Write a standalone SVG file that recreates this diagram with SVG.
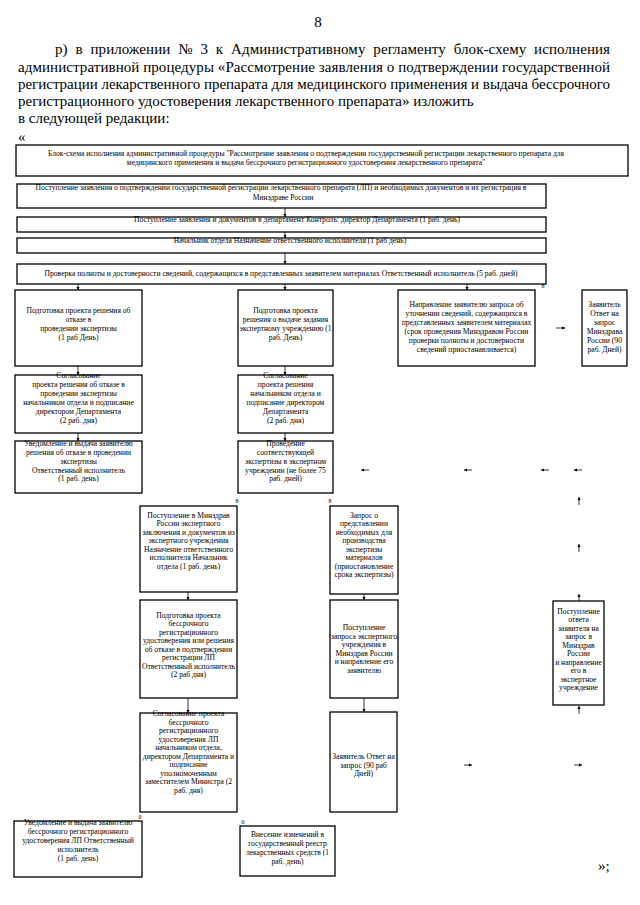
<svg xmlns="http://www.w3.org/2000/svg" width="640" height="905" viewBox="0 0 640 905">
<defs>
<marker id="ah" viewBox="0 0 6 6" refX="6" refY="3" markerWidth="4" markerHeight="4" orient="auto"><path d="M0,0 L6,3 L0,6 z" fill="#000"/></marker>
</defs>
<style>
.p{font-family:"Liberation Serif","Times New Roman",serif;font-size:15px;fill:#000}
.t{font-family:"Liberation Serif","Times New Roman",serif;font-size:7.6px;fill:#000;text-anchor:middle}
.b{fill:#fff;stroke:#000;stroke-width:1.3}
.c{stroke:#000;stroke-width:0.8;fill:none;marker-end:url(#ah)}
.m{font-family:"Liberation Serif","Times New Roman",serif;font-size:6px;fill:#000;text-anchor:middle}
</style>
<rect width="640" height="905" fill="#fff"/>
<g id="header">
<text class="p" x="318" y="27" font-size="11" text-anchor="middle">8</text>
<text class="p" x="55" y="54" textLength="555" lengthAdjust="spacing" word-spacing="4">р) в приложении № 3 к Административному регламенту блок-схему исполнения</text>
<text class="p" x="18" y="72" textLength="592" lengthAdjust="spacing">административной процедуры «Рассмотрение заявления о подтверждении государственной</text>
<text class="p" x="18" y="89" textLength="592" lengthAdjust="spacing">регистрации лекарственного препарата для медицинского применения и выдача бессрочного</text>
<text class="p" x="18" y="106">регистрационного удостоверения лекарственного препарата» изложить</text>
<text class="p" x="18" y="123">в следующей редакции:</text>
<text class="p" x="18" y="142">«</text>
<text class="p" x="598" y="871">»;</text>
</g>
<g id="title">
<rect class="b" x="16" y="145" width="612" height="31"/>
<text class="t" font-size="8"><tspan x="306" y="156">Блок-схема исполнения административной процедуры "Рассмотрение заявления о подтверждении государственной регистрации лекарственного препарата для</tspan><tspan x="306" y="165">медицинского применения и выдача бессрочного регистрационного удостоверения лекарственного препарата"</tspan></text>
</g>
<g id="nA">
<rect class="b" x="17" y="184" width="529" height="24"/>
<text class="t" font-size="7.9"><tspan x="281" y="190">Поступление заявления о подтверждении государственной регистрации лекарственного препарата (ЛП) и необходимых документов и их регистрация в</tspan><tspan x="283" y="200">Минздраве России</tspan></text>
</g>
<g id="nB">
<rect class="b" x="17" y="217" width="529" height="15"/>
<text class="t" x="297" y="222" font-size="7.9">Поступление заявления и документов в департамент Контроль: директор Департамента (1 раб. день)</text>
</g>
<g id="nC">
<rect class="b" x="17" y="238" width="529" height="15"/>
<text class="t" x="290" y="243" font-size="7.9">Начальник отдела Назначение ответственного исполнителя (1 раб  день)</text>
</g>
<g id="nD">
<rect class="b" x="17" y="264" width="529" height="20"/>
<text class="t" x="281" y="276" font-size="8.2">Проверка полноты и достоверности сведений, содержащихся в представленных заявителем материалах Ответственный исполнитель (5  раб. дней)</text>
</g>
<g id="nE1">
<rect class="b" x="15" y="290" width="127" height="76"/>
<text class="t"><tspan x="78.5" y="313">Подготовка проекта решения об</tspan><tspan x="78.5" y="322">отказе в</tspan><tspan x="78.5" y="331">проведении экспертизы</tspan><tspan x="78.5" y="340">(1 раб  День)</tspan></text>
</g>
<g id="nE2">
<rect class="b" x="238" y="290" width="95" height="76"/>
<text class="t"><tspan x="285.5" y="313">Подготовка проекта</tspan><tspan x="285.5" y="322">решения о выдаче задания</tspan><tspan x="285.5" y="331">экспертному учреждению (1</tspan><tspan x="285.5" y="340">раб. День)</tspan></text>
</g>
<g id="nE3">
<rect class="b" x="398" y="290" width="137" height="76"/>
<text class="t"><tspan x="466.5" y="307">Направление заявителю запроса об</tspan><tspan x="466.5" y="316">уточнении сведений, содержащихся в</tspan><tspan x="466.5" y="325">представленных заявителем материалах</tspan><tspan x="466.5" y="334">(срок проведения Минздравом России</tspan><tspan x="466.5" y="343">проверки полноты и достоверности</tspan><tspan x="466.5" y="352">сведений приостанавливается)</tspan></text>
</g>
<g id="nE4">
<rect class="b" x="582" y="290" width="45" height="76"/>
<text class="t"><tspan x="604.5" y="307">Заявитель</tspan><tspan x="604.5" y="316">Ответ на</tspan><tspan x="604.5" y="325">запрос</tspan><tspan x="604.5" y="334">Минздрава</tspan><tspan x="604.5" y="343">России   (90</tspan><tspan x="604.5" y="352">раб. Дней)</tspan></text>
<text class="m" x="543" y="288">8</text>
</g>
<g id="nF1">
<rect class="b" x="15" y="375" width="127" height="58"/>
<text class="t"><tspan x="78.5" y="378">Согласование</tspan><tspan x="78.5" y="387">проекта решения об отказе в</tspan><tspan x="78.5" y="396">проведении экспертизы</tspan><tspan x="78.5" y="405">начальником отдела и подписание</tspan><tspan x="78.5" y="414">директором Департамента</tspan><tspan x="78.5" y="423">(2 раб. дня)</tspan></text>
</g>
<g id="nF2">
<rect class="b" x="238" y="375" width="95" height="58"/>
<text class="t"><tspan x="285.5" y="378">Согласование</tspan><tspan x="285.5" y="387">проекта решения</tspan><tspan x="285.5" y="396">начальником отдела и</tspan><tspan x="285.5" y="405">подписание директором</tspan><tspan x="285.5" y="414">Департамента</tspan><tspan x="285.5" y="423">(2 раб. дня)</tspan></text>
</g>
<g id="nG1">
<rect class="b" x="15" y="441" width="127" height="52"/>
<text class="t"><tspan x="78.5" y="446">Уведомление и  выдача заявителю</tspan><tspan x="78.5" y="455">решения об отказе в проведении</tspan><tspan x="78.5" y="464">экспертизы</tspan><tspan x="78.5" y="472.5">Ответственный исполнитель</tspan><tspan x="78.5" y="481">(1 раб. день)</tspan></text>
</g>
<g id="nG2">
<rect class="b" x="238" y="441" width="95" height="52"/>
<text class="t"><tspan x="285.5" y="446">Проведение</tspan><tspan x="285.5" y="455">соответствующей</tspan><tspan x="285.5" y="464">экспертизы в экспертном</tspan><tspan x="285.5" y="472.5">учреждении (не более 75</tspan><tspan x="285.5" y="481">раб. дней)</tspan></text>
</g>
<g id="nH1">
<rect class="b" x="140" y="506" width="97" height="86"/>
<text class="t"><tspan x="188.5" y="517.5">Поступление в Минздрав</tspan><tspan x="188.5" y="526">России экспертного</tspan><tspan x="188.5" y="534.5">заключения и документов из</tspan><tspan x="188.5" y="543">экспертного учреждения</tspan><tspan x="188.5" y="551.5">Назначение ответственного</tspan><tspan x="188.5" y="560">исполнителя Начальник</tspan><tspan x="188.5" y="568.5">отдела (1 раб. день)</tspan></text>
<text class="m" x="237" y="503">8</text>
</g>
<g id="nH2">
<rect class="b" x="330" y="506" width="68" height="88"/>
<text class="t"><tspan x="364" y="517.5">Запрос о</tspan><tspan x="364" y="526">представлении</tspan><tspan x="364" y="534.5">необходимых для</tspan><tspan x="364" y="543">производства</tspan><tspan x="364" y="551.5">экспертизы</tspan><tspan x="364" y="560">материалов</tspan><tspan x="364" y="568.5">(приостановление</tspan><tspan x="364" y="577">срока экспертизы)</tspan></text>
<text class="m" x="330" y="503">8</text>
</g>
<g id="nI1">
<rect class="b" x="140" y="600" width="97" height="98"/>
<text class="t"><tspan x="188.5" y="617.5">Подготовка проекта</tspan><tspan x="188.5" y="626">бессрочного</tspan><tspan x="188.5" y="634.5">регистрационного</tspan><tspan x="188.5" y="643">удостоверения или решения</tspan><tspan x="188.5" y="651.5">об отказе в подтверждении</tspan><tspan x="188.5" y="660">регистрации ЛП</tspan><tspan x="188.5" y="668.5">Ответственный исполнитель</tspan><tspan x="188.5" y="677">(2 раб  дня)</tspan></text>
</g>
<g id="nI2">
<rect class="b" x="330" y="600" width="68" height="98"/>
<text class="t"><tspan x="364" y="630">Поступление</tspan><tspan x="364" y="638.5">запроса экспертного</tspan><tspan x="364" y="647">учреждения в</tspan><tspan x="364" y="655.5">Минздрав России</tspan><tspan x="364" y="664">и направление его</tspan><tspan x="364" y="672.5">заявителю</tspan></text>
</g>
<g id="nI3">
<rect class="b" x="553" y="601" width="51" height="104"/>
<text class="t"><tspan x="578.5" y="613.5">Поступление</tspan><tspan x="578.5" y="622">ответа</tspan><tspan x="578.5" y="630.5">заявителя на</tspan><tspan x="578.5" y="639">запрос в</tspan><tspan x="578.5" y="647.5">Минздрав</tspan><tspan x="578.5" y="656">России</tspan><tspan x="578.5" y="664.5">и направление</tspan><tspan x="578.5" y="673">его в</tspan><tspan x="578.5" y="681.5">экспертное</tspan><tspan x="578.5" y="690">учреждение</tspan></text>
</g>
<g id="nJ1">
<rect class="b" x="140" y="713" width="97" height="99"/>
<text class="t"><tspan x="188.5" y="716">Согласование проекта</tspan><tspan x="188.5" y="724.5">бессрочного</tspan><tspan x="188.5" y="733">регистрационного</tspan><tspan x="188.5" y="741.5">удостоверения ЛП</tspan><tspan x="188.5" y="750">начальником отдела,</tspan><tspan x="188.5" y="758.5">директором Департамента и</tspan><tspan x="188.5" y="767">подписание</tspan><tspan x="188.5" y="775.5">уполномоченным</tspan><tspan x="188.5" y="784">заместителем Министра (2</tspan><tspan x="188.5" y="792.5">раб. дня)</tspan></text>
</g>
<g id="nJ2">
<rect class="b" x="330" y="712" width="67" height="100"/>
<text class="t"><tspan x="363.5" y="759">Заявитель Ответ на</tspan><tspan x="363.5" y="767.5">запрос  (90 раб</tspan><tspan x="363.5" y="776">Дней)</tspan></text>
</g>
<g id="nK1">
<rect class="b" x="14" y="821" width="128" height="56"/>
<text class="t"><tspan x="78" y="825">Уведомление и  выдача заявителю</tspan><tspan x="78" y="834">бессрочного регистрационного</tspan><tspan x="78" y="843">удостоверения ЛП Ответственный</tspan><tspan x="78" y="852">исполнитель</tspan><tspan x="78" y="861">(1 раб. день)</tspan></text>
<text class="m" x="140" y="819">0</text>
</g>
<g id="nK2">
<rect class="b" x="240" y="826" width="95" height="50"/>
<text class="t"><tspan x="287.5" y="837">Внесение изменений в</tspan><tspan x="287.5" y="846">государственный реестр</tspan><tspan x="287.5" y="855">лекарственных средств (1</tspan><tspan x="287.5" y="864">раб. день)</tspan></text>
<text class="m" x="243" y="824">0</text>
</g>
<g id="connectors">
<path class="c" d="M285,208 V217"/>
<path class="c" d="M285,232 V238"/>
<path class="c" d="M285,253 V264"/>
<path class="c" d="M78,284 V290"/>
<path class="c" d="M285,284 V290"/>
<path class="c" d="M467,284 V290"/>
<path class="c" d="M556,328 H565"/>
<path class="c" d="M78,366 V375"/>
<path class="c" d="M285,366 V375"/>
<path class="c" d="M78,433 V441"/>
<path class="c" d="M285,433 V441"/>
<path class="c" d="M369,470 H361"/>
<path class="c" d="M472,470 H464"/>
<path class="c" d="M549,470 H541"/>
<path class="c" d="M582,470 H574"/>
<path class="c" d="M579,505 V497"/>
<path class="c" d="M579,552 V544"/>
<path class="c" d="M579,601 V594"/>
<path class="c" d="M579,714 V706"/>
<path class="c" d="M188,592 V600"/>
<path class="c" d="M364,594 V600"/>
<path class="c" d="M188,698 V713"/>
<path class="c" d="M364,698 V712"/>
<path class="c" d="M464,765 H472"/>
<path class="c" d="M574,765 H582"/>
</g>
</svg>
